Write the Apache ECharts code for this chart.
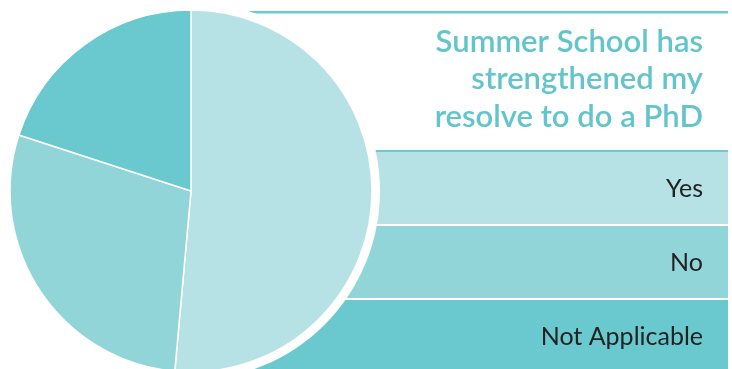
<!DOCTYPE html>
<html>
<head>
<meta charset="utf-8">
<script src="https://cdn.jsdelivr.net/npm/echarts@6/dist/echarts.min.js"></script>
<style>
  html, body { margin: 0; padding: 0; background: #fff; }
  #chart { width: 732px; height: 369px; }
</style>
</head>
<body>
<div id="chart"></div>
<script>
// answers and their counts
var categories = ['Yes', 'No', 'Not Applicable'];
var counts = [36, 20, 14];
var colors = ['#b6e1e5', '#92d5d9', '#69c9ce'];
var titleLines = ['Summer School has', 'strengthened my', 'resolve to do a PhD'];

var chart = echarts.init(document.getElementById('chart'));

var cx = 191, cy = 191, r = 181;
var bandTop = 152, bandH = 72, bandGap = 2, bandLeft = 191, bandRight = 728;
var font = 'Lato';

var graphics = [];
// top rule and rule above the bands
graphics.push({ type: 'rect', z: 0, shape: { x: bandLeft, y: 11, width: bandRight - bandLeft, height: 2.5 }, style: { fill: '#6ccbd0' } });
graphics.push({ type: 'rect', z: 0, shape: { x: bandLeft, y: bandTop - 2, width: bandRight - bandLeft, height: 2 }, style: { fill: '#6ccbd0' } });
categories.forEach(function (c, i) {
  var y = bandTop + i * (bandH + bandGap);
  graphics.push({ type: 'rect', z: 0, shape: { x: bandLeft, y: y, width: bandRight - bandLeft, height: bandH }, style: { fill: colors[i] } });
  graphics.push({ type: 'text', z: 1, x: 703, y: y + bandH / 2 + 1,
    style: { text: c, align: 'right', verticalAlign: 'middle', font: '25px ' + font, fill: '#222' } });
});
// white halo around the pie
graphics.push({ type: 'circle', z: 5, shape: { cx: cx, cy: cy, r: r + 8 }, style: { fill: '#fff' } });
graphics.push({ type: 'text', z: 1, x: 703, y: 23,
  style: { text: titleLines.join('\n'), align: 'right', verticalAlign: 'top', font: '600 31px ' + font, lineHeight: 37.5, fill: '#62c5cc' } });

chart.setOption({
  animation: false,
  graphic: graphics,
  series: [{
    type: 'pie',
    z: 10,
    center: [cx, cy],
    radius: [0, r],
    startAngle: 90,
    clockwise: true,
    label: { show: false },
    labelLine: { show: false },
    itemStyle: { borderColor: '#fff', borderWidth: 1.5 },
    data: categories.map(function (c, i) {
      return { name: c, value: counts[i], itemStyle: { color: colors[i] } };
    })
  }]
});
</script>
</body>
</html>
